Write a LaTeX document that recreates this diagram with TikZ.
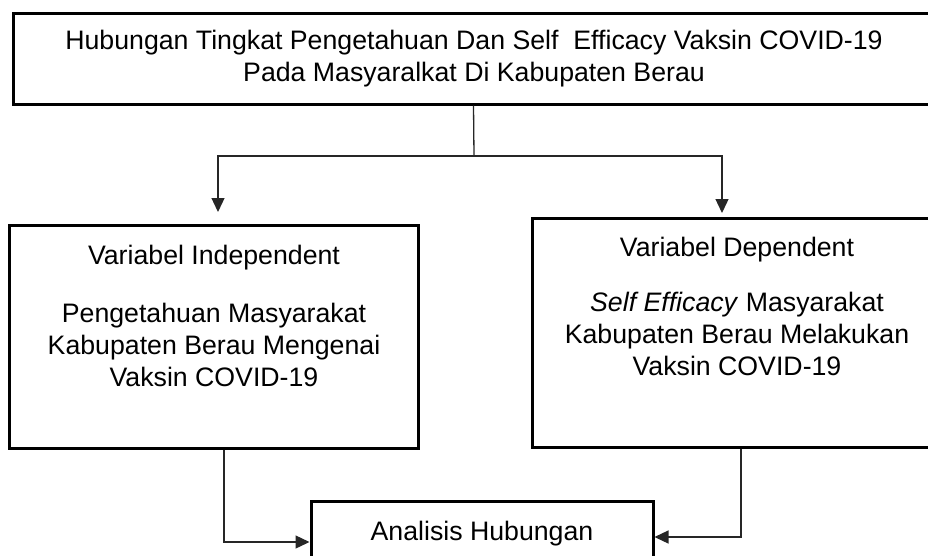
\documentclass[tikz,border=0pt]{standalone}
\usepackage{fontspec}
\setmainfont{Liberation Sans}
\usetikzlibrary{arrows.meta}
\tikzset{
  boxnode/.style={draw=black, line width=3pt, inner sep=0pt, fill=white},
  txt/.style={inner sep=0pt, align=center, font=\fontsize{26.7}{32}\selectfont},
  conn/.style={draw=black!85, line width=1.3pt},
  arr/.style={conn, -{Triangle[length=14pt,width=13pt]}}
}
\begin{document}
\begin{tikzpicture}[x=1pt,y=-1pt]
\useasboundingbox (0,0) rectangle (928,555);
% boxes
\node[boxnode, minimum width=921pt, minimum height=91pt] (top) at (473.5,58.5) {};
\node[boxnode, minimum width=409pt, minimum height=223pt] (lbox) at (213.5,336.5) {};
\node[boxnode, minimum width=410pt, minimum height=229pt] (rbox) at (737,332.5) {};
\node[boxnode, minimum width=342pt, minimum height=64pt] (ana) at (482,533) {};
% texts
\node[txt] (toptxt) at (474,58.5) {Hubungan Tingkat Pengetahuan Dan Self~ Efficacy Vaksin COVID-19\\Pada Masyaralkat Di Kabupaten Berau};
\node[txt] (ltitle) at (214,257.5) {Variabel Independent};
\node[txt] (lbody) at (214,344.5) {Pengetahuan Masyarakat\\Kabupaten Berau Mengenai\\Vaksin COVID-19};
\node[txt] (rtitle) at (737,249.5) {Variabel Dependent};
\node[txt] (rbody) at (737,333.5) {\textit{Self Efficacy} Masyarakat\\Kabupaten Berau Melakukan\\Vaksin COVID-19};
\node[txt] (anatxt) at (482,533.5) {Analisis Hubungan};
% connectors
\coordinate (split) at (474,156);
\coordinate (ltip) at (218,212);
\coordinate (rtip) at (722,213);
\draw[conn] (top.south) -- (split);
\draw[arr] (split) -| (ltip);
\draw[arr] (split) -| (rtip);
\draw[arr] ([xshift=10.5pt]lbox.south) |- ([yshift=-9pt]ana.west);
\draw[arr] ([xshift=4pt]rbox.south) |- ([yshift=-4pt]ana.east);
\end{tikzpicture}
\end{document}
